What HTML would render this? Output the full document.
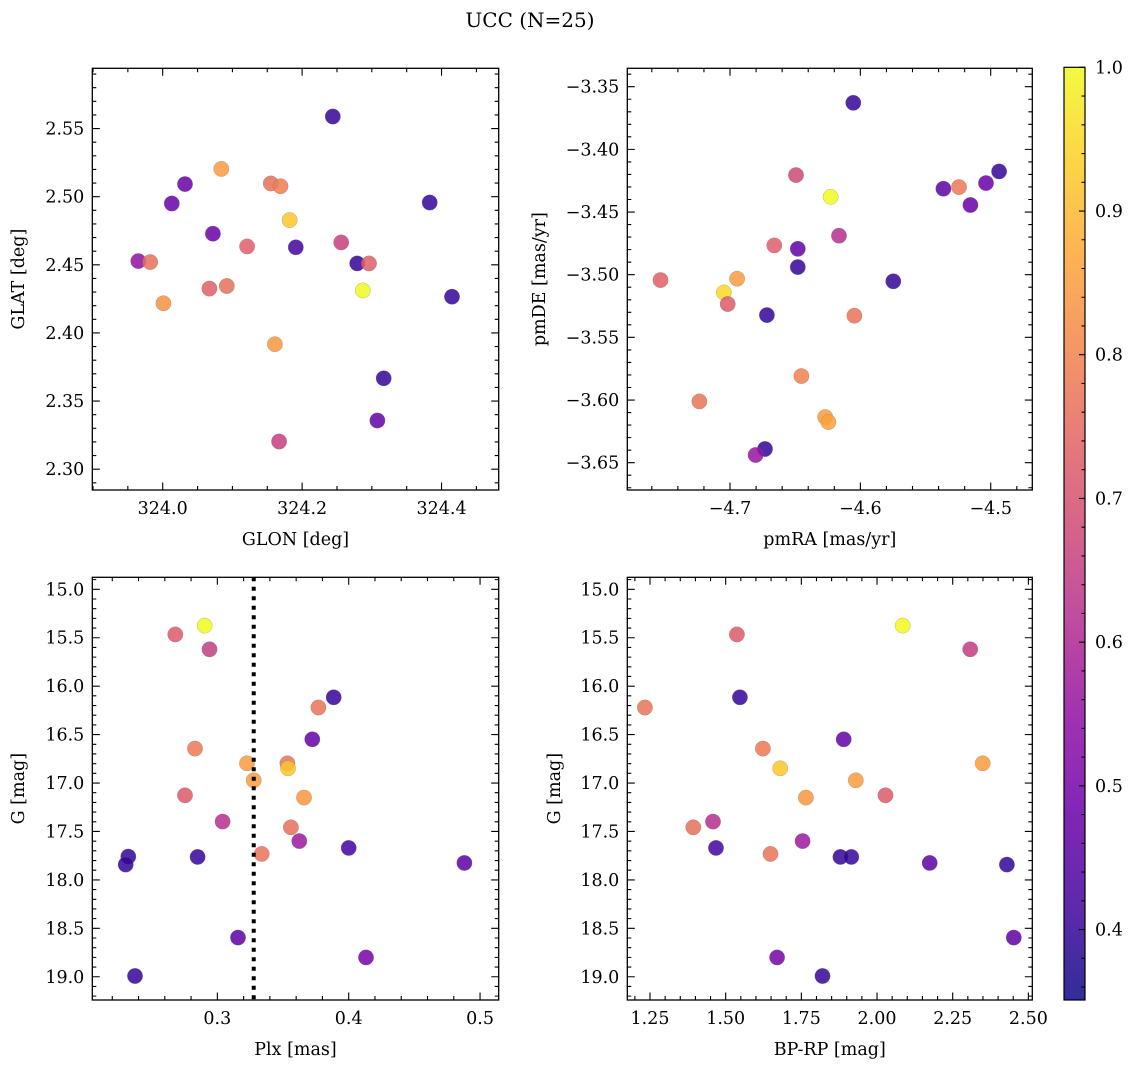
<!DOCTYPE html>
<html><head><meta charset="utf-8">
<style>
html,body{margin:0;padding:0;background:#fff;}
svg{display:block;font-family:"DejaVu Serif","Liberation Serif",serif;}
</style></head>
<body>
<svg id="fig" width="1136" height="1067" viewBox="0 0 1136 1067">
<text x="530" y="27" font-size="20" text-anchor="middle">UCC (N=25)</text>
</svg>
<script>
// ---- data (one star per index, panel by panel) ----
const glon = [324.244,324.084,324.032,324.155,324.169,324.013,324.383,324.182,324.072,324.256,324.121,324.191,323.965,323.982,324.279,324.296,324.067,324.092,324.287,324.415,324.001,324.161,324.317,324.308,324.167];
const glat = [2.5588,2.5204,2.5092,2.5097,2.5077,2.4950,2.4957,2.4828,2.4728,2.4664,2.4635,2.4628,2.4527,2.4520,2.4510,2.4510,2.4325,2.4344,2.4312,2.4266,2.4217,2.3917,2.3667,2.3357,2.3203];
const probA = [0.40,0.85,0.48,0.76,0.79,0.48,0.40,0.92,0.48,0.66,0.73,0.42,0.55,0.76,0.40,0.73,0.73,0.76,1.0,0.40,0.83,0.84,0.40,0.47,0.66];

const pmra = [-4.6054,-4.6494,-4.6228,-4.5363,-4.5243,-4.5036,-4.4936,-4.5156,-4.6164,-4.6660,-4.6480,-4.6480,-4.5747,-4.7533,-4.6946,-4.7048,-4.7018,-4.6717,-4.6046,-4.6452,-4.7235,-4.6270,-4.6245,-4.6732,-4.6804];
const pmde = [-3.3628,-3.4205,-3.4378,-3.4314,-3.4301,-3.4269,-3.4176,-3.4444,-3.4689,-3.4766,-3.4793,-3.4939,-3.5053,-3.5043,-3.5032,-3.5141,-3.5234,-3.5322,-3.5327,-3.5809,-3.6011,-3.6136,-3.6176,-3.6391,-3.6439];
const probB = [0.40,0.68,1.0,0.46,0.78,0.48,0.40,0.48,0.62,0.73,0.47,0.40,0.40,0.73,0.85,0.95,0.72,0.40,0.77,0.80,0.77,0.85,0.86,0.40,0.56];

const plx = [0.2904,0.2680,0.2940,0.3886,0.3769,0.3723,0.2830,0.3226,0.3533,0.3538,0.3277,0.3660,0.2754,0.3040,0.3560,0.3624,0.4000,0.3338,0.2322,0.2850,0.2302,0.4881,0.3157,0.4132,0.2373];
const gmagC = [15.375,15.465,15.619,16.115,16.220,16.548,16.645,16.796,16.796,16.848,16.972,17.150,17.127,17.398,17.457,17.600,17.670,17.732,17.760,17.763,17.842,17.825,18.596,18.800,18.992];
const probC = [1.0,0.72,0.65,0.40,0.77,0.47,0.78,0.85,0.77,0.92,0.85,0.84,0.72,0.62,0.76,0.57,0.42,0.77,0.40,0.40,0.40,0.46,0.46,0.50,0.40];
const plxLine = [0.3277];

const bprp = [2.085,1.537,2.308,1.233,1.547,1.890,1.623,1.680,2.349,1.930,1.765,2.028,1.393,1.458,1.468,1.648,1.754,1.879,1.915,2.174,2.429,2.452,1.670,1.820];
const gmagD = [15.375,15.465,15.619,16.220,16.115,16.548,16.645,16.848,16.796,16.972,17.150,17.127,17.457,17.398,17.670,17.732,17.600,17.763,17.763,17.825,17.842,18.596,18.800,18.992];
const probD = [1.0,0.72,0.65,0.77,0.40,0.47,0.78,0.92,0.85,0.85,0.84,0.72,0.76,0.62,0.42,0.77,0.57,0.40,0.40,0.46,0.40,0.46,0.50,0.40];

const cbTicks = [0.4,0.5,0.6,0.7,0.8,0.9,1.0];
const cbMin = 0.351, cbMax = 1.0;

// ---- helpers ----
const NS = "http://www.w3.org/2000/svg";
const svg = document.getElementById('fig');
const FS = 17.5;
function mk(tag, attrs, parent){ const e=document.createElementNS(NS,tag); for(const k in attrs) e.setAttribute(k,attrs[k]); (parent||svg).appendChild(e); return e; }
const plasma = [[13,8,135],[65,4,157],[106,0,168],[143,13,164],[177,42,144],[204,71,120],[225,100,98],[242,132,75],[252,166,54],[252,206,37],[240,249,33]];
function cmap(v){
  let t=(v-cbMin)/(cbMax-cbMin); t=Math.max(0,Math.min(1,t))*10;
  const i=Math.min(9,Math.floor(t)), f=t-i, a=plasma[i], b=plasma[i+1];
  return 'rgb('+a.map((c,k)=>Math.round(c+(b[k]-c)*f)).join(',')+')';
}
function fmt(v,d){ const s=Math.abs(v).toFixed(d); return (v<-1e-9?'\u2212':'')+s; }
function ticks(lo,hi,step){ const r=[]; for(let k=Math.ceil(lo/step-1e-6);k<=Math.floor(hi/step+1e-6);k++) r.push(k*step); return r; }

function panel(cfg){
  const g = mk('g',{});
  
  
  const {L,R,T,B,xd,yd,invY} = cfg;
  const sx = v => L + (v-xd[0])/(xd[1]-xd[0])*(R-L);
  const sy = v => invY ? T + (v-yd[0])/(yd[1]-yd[0])*(B-T) : B - (v-yd[0])/(yd[1]-yd[0])*(B-T);
  const pg = mk('g',{},g);
  
  
  for(let i=0;i<cfg.xs.length;i++){
    const c = mk('circle',{cx:sx(cfg.xs[i]).toFixed(1),cy:sy(cfg.ys[i]).toFixed(1),r:7.7,fill:cmap(cfg.cs[i]),'fill-opacity':0.85,stroke:'#777','stroke-width':0.4,'stroke-opacity':0.6},pg);
    
    
  }
  if(cfg.vline){
    const l = mk('line',{x1:sx(cfg.vline[0]),x2:sx(cfg.vline[0]),y1:T,y2:B,stroke:'#000','stroke-width':4,'stroke-dasharray':'4 5.5'},g);
    
    
  }
  let d='';
  ticks(xd[0],xd[1],cfg.xminor).forEach(v=>{const x=sx(v); d+=`M${x},${B}v-4M${x},${T}v4`;});
  ticks(yd[0],yd[1],cfg.yminor).forEach(v=>{const y=sy(v); d+=`M${L},${y}h4M${R},${y}h-4`;});
  ticks(xd[0],xd[1],cfg.xmajor).forEach(v=>{const x=sx(v); d+=`M${x},${B}v-7.5M${x},${T}v7.5`;});
  ticks(yd[0],yd[1],cfg.ymajor).forEach(v=>{const y=sy(v); d+=`M${L},${y}h7.5M${R},${y}h-7.5`;});
  mk('path',{d:d,stroke:'#000','stroke-width':1.1,fill:'none'},g);
  const fr = mk('rect',{x:L,y:T,width:R-L,height:B-T,fill:'none',stroke:'#000','stroke-width':1.3},g);
  
  
  ticks(xd[0],xd[1],cfg.xmajor).forEach(v=>{
    const t = mk('text',{x:sx(v),y:B+24,'font-size':FS,'text-anchor':'middle'},g);
    t.textContent = fmt(v,cfg.xdec);
    
    
  });
  ticks(yd[0],yd[1],cfg.ymajor).forEach(v=>{
    const t = mk('text',{x:L-8,y:sy(v)+6,'font-size':FS,'text-anchor':'end'},g);
    t.textContent = fmt(v,cfg.ydec);
    
    
  });
  const xl = mk('text',{x:(L+R)/2,y:B+55,'font-size':FS,'text-anchor':'middle'},g);
  xl.textContent = cfg.xlabel;
  
  
  const yx = cfg.ylx, yy=(T+B)/2;
  const yl = mk('text',{x:yx,y:yy,'font-size':FS,'text-anchor':'middle',transform:`rotate(-90 ${yx} ${yy})`},g);
  yl.textContent = cfg.ylabel;
  
  
}

panel({name:'glon-glat-panel',L:92.3,R:498.7,T:68.3,B:490,xd:[323.899,324.482],yd:[2.2847,2.5942],invY:false,
  xs:glon,ys:glat,cs:probA,xmajor:0.2,xminor:0.05,ymajor:0.05,yminor:0.01,xdec:1,ydec:2,xlabel:'GLON [deg]',ylabel:'GLAT [deg]',ylx:24});
panel({name:'pm-panel',L:627.3,R:1032.3,T:68.3,B:490,xd:[-4.7788,-4.4681],yd:[-3.6718,-3.3353],invY:false,
  xs:pmra,ys:pmde,cs:probB,xmajor:0.1,xminor:0.02,ymajor:0.05,yminor:0.01,xdec:1,ydec:2,xlabel:'pmRA [mas/yr]',ylabel:'pmDE [mas/yr]',ylx:545});
panel({name:'plx-g-panel',L:92.3,R:498.7,T:577.3,B:1000,xd:[0.2048,0.5142],yd:[14.876,19.24],invY:true,
  xs:plx,ys:gmagC,cs:probC,vline:plxLine,xmajor:0.1,xminor:0.02,ymajor:0.5,yminor:0.1,xdec:1,ydec:1,xlabel:'Plx [mas]',ylabel:'G [mag]',ylx:24});
panel({name:'cmd-panel',L:627.3,R:1032.3,T:577.3,B:1000,xd:[1.175,2.513],yd:[14.876,19.24],invY:true,
  xs:bprp,ys:gmagD,cs:probD,xmajor:0.25,xminor:0.05,ymajor:0.5,yminor:0.1,xdec:2,ydec:1,xlabel:'BP-RP [mag]',ylabel:'G [mag]',ylx:560});

(function(){
  const L=1064,R=1085,T=67.3,B=1000;
  const defs = mk('defs',{});
  const lg = mk('linearGradient',{id:'cbg',x1:0,y1:1,x2:0,y2:0},defs);
  for(let i=0;i<=20;i++){
    const v=cbMin+(cbMax-cbMin)*i/20;
    mk('stop',{offset:(i/20),'stop-color':cmap(v),'stop-opacity':0.85},lg);
  }
  const g = mk('g',{});
  
  
  mk('rect',{x:L,y:T,width:R-L,height:B-T,fill:'url(#cbg)',stroke:'#000','stroke-width':1.2},g);
  const sy = v => B - (v-cbMin)/(cbMax-cbMin)*(B-T);
  let d='';
  ticks(cbMin,cbMax,0.02).forEach(v=>{d+=`M${R},${sy(v)}h-3.5`;});
  cbTicks.forEach(v=>{d+=`M${R},${sy(v)}h-6`;});
  mk('path',{d:d,stroke:'#000','stroke-width':1.1},g);
  cbTicks.forEach(v=>{
    const t = mk('text',{x:R+10,y:sy(v)+6,'font-size':FS},g);
    t.textContent = v.toFixed(1);
    
    
  });
})();
</script>
</body></html>
